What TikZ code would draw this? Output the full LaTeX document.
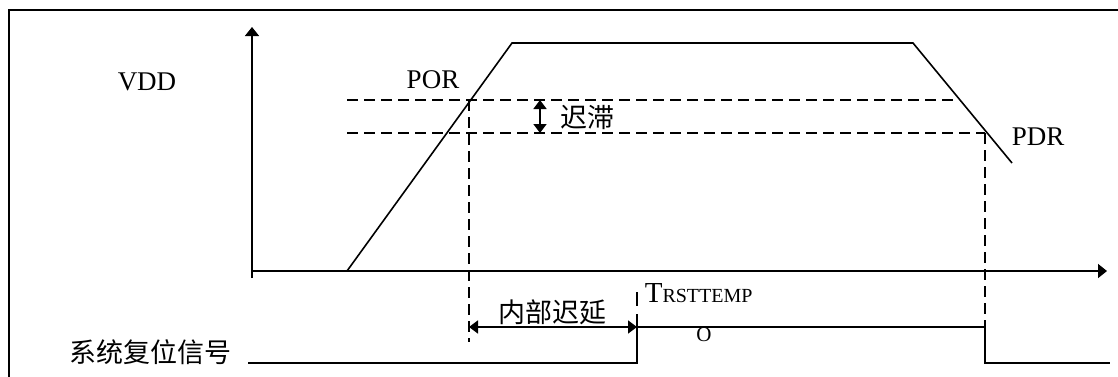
\documentclass[tikz,border=0pt]{standalone}
\usepackage{fontspec}
\setmainfont{Liberation Serif}
\newfontfamily\cjk{Noto Sans CJK SC}
\usetikzlibrary{arrows.meta}
\begin{document}
\begin{tikzpicture}[x=1pt,y=-1pt,line width=1.6pt,
  dsh/.style={dash pattern=on 11pt off 6pt},
  axis/.style={-{Triangle[width=14pt,length=9pt]}},
  dbl/.style={{Triangle[width=13pt,length=9pt]}-{Triangle[width=13pt,length=9pt]}},
  lab/.style={inner sep=0pt,font=\fontsize{27}{27}\selectfont},
  cjklab/.style={inner sep=0pt,font=\cjk\fontsize{27}{27}\selectfont}]
\useasboundingbox (0,0) rectangle (1118,376);
% frame
\coordinate (fbl) at (9,380);
\coordinate (ftl) at (9,10);
\coordinate (ftr) at (1122,10);
\draw (fbl) -- (ftl) -- (ftr);
% axes
\coordinate (ybot) at (252,278);
\coordinate (ytop) at (252,27);
\coordinate (o) at (252,271);
\coordinate (xend) at (1107,271);
\draw[axis] (ybot) -- (ytop);
\draw[axis] (o) -- (xend);
% VDD curve
\coordinate (r0) at (347,271);
\coordinate (r1) at (512,43);
\coordinate (r2) at (913,43);
\coordinate (r3) at (1012,163);
\draw (r0) -- (r1) -- (r2) -- (r3);
% thresholds
\coordinate (u0) at (347,100);
\coordinate (u1) at (958,100);
\coordinate (l0) at (347,133);
\coordinate (l1) at (985,133);
\draw[dsh] (u0) -- (u1);
\draw[dsh] (l0) -- (l1);
% verticals
\coordinate (v1t) at (469,100);
\coordinate (v1b) at (469,342);
\coordinate (v2b) at (985,327);
\coordinate (v3t) at (637,292);
\coordinate (s1) at (637,363);
\coordinate (s2) at (637,327);
\draw[dsh] (v1t) -- (v1b);
\draw[dsh] (l1) -- (v2b);
\draw[dash pattern=on 14pt off 8pt] (v3t) -- (s2);
% reset signal
\coordinate (s0) at (248,363);
\coordinate (s4) at (985,363);
\coordinate (s5) at (1110,363);
\draw (s0) -- (s1) -- (s2) -- (v2b) -- (s4) -- (s5);
% hysteresis arrow
\coordinate (h0) at (540,100);
\coordinate (h1) at (540,133);
\draw[dbl] (h0) -- (h1);
% delay arrow
\coordinate (d0) at (469,327);
\draw[dbl] (d0) -- (s2);
% labels
\node[lab] (vdd) at (147,82) {VDD};
\node[lab] (por) at (433,80) {POR};
\node[lab] (pdr) at (1038,137) {PDR};
\node[cjklab] (hys) at (587,117) {迟滞};
\node[cjklab] (dly) at (552,312) {内部迟延};
\node[cjklab] (rst) at (150,352) {系统复位信号};
\node[lab,anchor=base west,font=\fontsize{29}{29}\selectfont] (trst) at (644,302) {T{\fontsize{20}{20}\selectfont RSTTEMP}};
\node[lab,font=\fontsize{21}{21}\selectfont] (trsto) at (704,335) {O};
\end{tikzpicture}
\end{document}
